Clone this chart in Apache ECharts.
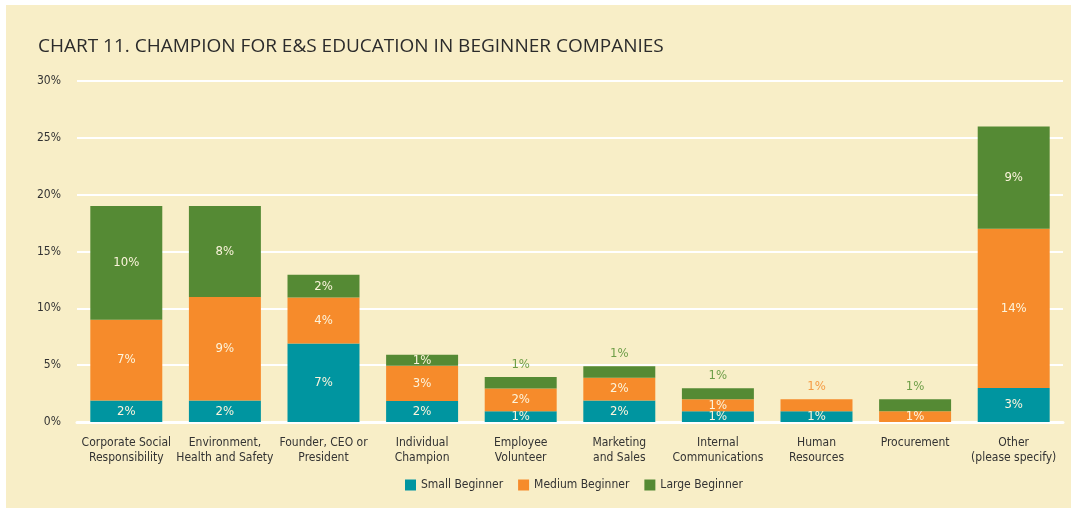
<!DOCTYPE html>
<html lang="en">
<head>
    <meta charset="UTF-8">
    <title>Champion for E&S Education</title>
    <style>
        body { margin: 0; background: #ffffff; }
        #main { position: absolute; left: 6px; top: 5px; width: 1065px; height: 503px; }
    </style>
</head>
<body>
    <div id="main"></div>
</body>
</html>
<script src="https://cdn.jsdelivr.net/npm/echarts@6/dist/echarts.min.js"></script>
<script type="text/javascript">
    const categories = [
        'Corporate Social\nResponsibility', 'Environment,\nHealth and Safety', 'Founder, CEO or\nPresident',
        'Individual\nChampion', 'Employee\nVolunteer', 'Marketing\nand Sales', 'Internal\nCommunications',
        'Human\nResources', 'Procurement', 'Other\n(please specify)'
    ];
    const smallBeginner  = [1.9, 1.9, 6.9, 1.85, 0.95, 1.9, 0.95, 0.95, 0, 3.0];
    const mediumBeginner = [7.1, 9.1, 4.05, 3.1, 2.0, 2.0, 1.05, 1.05, 0.95, 14.0];
    const largeBeginner  = [10.0, 8.0, 2.0, 0.97, 1.0, 1.0, 0.97, 0, 1.05, 9.0];
    const yTicks = [0, 5, 10, 15, 20, 25, 30];

    const labelFont = "'Liberation Sans Narrow', 'DejaVu Sans Condensed', sans-serif";
    const colors = { small: '#0095a0', medium: '#f68b2b', large: '#558a34' };

    // labels that sit above the bar instead of inside the segment
    const outside = { medium: [7], large: [4, 5, 6, 8] };
    const outsideColor = { medium: '#f59c45', large: '#6e9e48' };

    function makeData(values, key) {
        return values.map((v, i) => {
            const item = { value: v };
            if (v === 0) {
                item.label = { show: false };
            } else if ((outside[key] || []).indexOf(i) >= 0) {
                item.label = { position: 'top', color: outsideColor[key], distance: 6 };
            }
            return item;
        });
    }

    function series(name, values, key) {
        return {
            name: name,
            type: 'bar',
            stack: 'total',
            barWidth: '73%',
            itemStyle: { color: colors[key] },
            label: {
                show: true,
                position: 'inside',
                color: '#fcf4dc',
                fontFamily: labelFont,
                fontSize: 13,
                formatter: p => Math.round(p.value) + '%'
            },
            emphasis: { disabled: true },
            data: makeData(values, key)
        };
    }

    const chart = echarts.init(document.getElementById('main'));
    chart.setOption({
        backgroundColor: '#f8eec7',
        animation: false,
        title: {
            text: 'CHART 11. CHAMPION FOR E&S EDUCATION IN BEGINNER COMPANIES',
            left: 32,
            top: 32,
            padding: 0,
            textStyle: {
                fontFamily: "'Open Sans', sans-serif",
                fontWeight: 'normal',
                fontSize: 19,
                color: '#2b2b2b'
            }
        },
        legend: {
            left: 399,
            top: 474,
            padding: 0,
            itemWidth: 11,
            itemHeight: 11,
            itemGap: 15,
            icon: 'rect',
            textStyle: { fontFamily: labelFont, fontSize: 12, color: '#333' },
            data: ['Small Beginner', 'Medium Beginner', 'Large Beginner']
        },
        grid: { left: 71, right: 8, top: 76, bottom: 86 },
        xAxis: {
            type: 'category',
            data: categories,
            axisLine: { lineStyle: { color: '#ffffff', width: 3 } },
            axisTick: { show: false },
            axisLabel: {
                interval: 0,
                margin: 13,
                lineHeight: 15,
                fontFamily: labelFont,
                fontSize: 12,
                color: '#333'
            }
        },
        yAxis: {
            type: 'value',
            min: yTicks[0],
            max: yTicks[yTicks.length - 1],
            interval: 5,
            axisLine: { show: false },
            axisTick: { show: false },
            splitLine: { lineStyle: { color: '#ffffff', width: 2 } },
            axisLabel: {
                margin: 16,
                fontFamily: labelFont,
                fontSize: 12,
                color: '#333',
                formatter: '{value}%'
            }
        },
        series: [
            series('Small Beginner', smallBeginner, 'small'),
            series('Medium Beginner', mediumBeginner, 'medium'),
            series('Large Beginner', largeBeginner, 'large')
        ]
    });
</script>
